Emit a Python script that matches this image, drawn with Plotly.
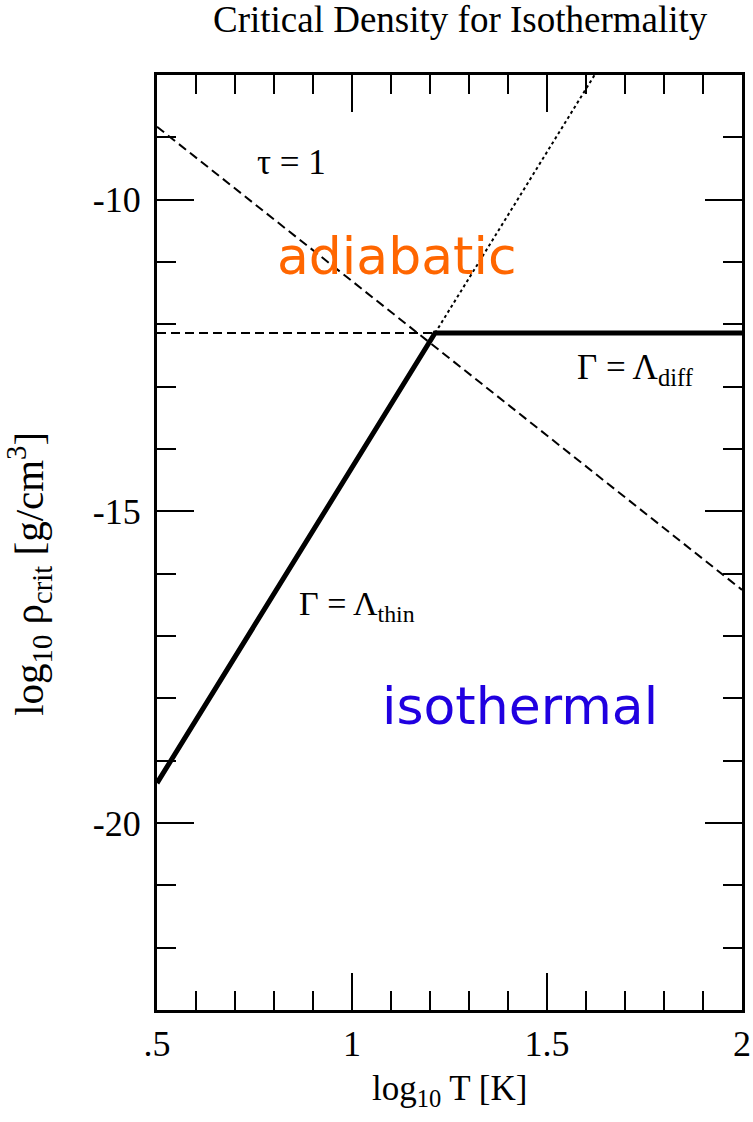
import plotly.graph_objects as go

# log10 T [K] and log10 rho_crit [g/cm^3] for the bounding curves
thin_T = [0.5, 1.213]
thin_rho = [-19.36, -12.14]

diff_T = [1.213, 2.0]
diff_rho = [-12.14, -12.14]

diff_ext_T = [0.5, 1.213]
diff_ext_rho = [-12.14, -12.14]

thin_ext_T = [1.213, 1.622]
thin_ext_rho = [-12.14, -8.0]

tau_T = [0.5, 2.0]
tau_rho = [-8.83, -16.26]

x_tickvals = [0.5, 1.0, 1.5, 2.0]
x_ticktext = [".5", "1", "1.5", "2"]
y_tickvals = [-10, -15, -20]
y_ticktext = ["-10", "-15", "-20"]

SERIF = "Liberation Serif, Times New Roman, serif"
SANS = "DejaVu Sans, Verdana, sans-serif"

fig = go.Figure()

# tau = 1 line
fig.add_trace(go.Scatter(x=tau_T, y=tau_rho, mode="lines",
                         line=dict(color="black", width=2, dash="9px,5px")))
# horizontal extension of the diffusion limit
fig.add_trace(go.Scatter(x=diff_ext_T, y=diff_ext_rho, mode="lines",
                         line=dict(color="black", width=2, dash="9px,5px")))
# extension of the optically thin limit
fig.add_trace(go.Scatter(x=thin_ext_T, y=thin_ext_rho, mode="lines",
                         line=dict(color="black", width=2, dash="3px,3px")))
# critical density boundary
fig.add_trace(go.Scatter(x=thin_T + diff_T[1:], y=thin_rho + diff_rho[1:], mode="lines",
                         line=dict(color="black", width=5)))

axis_common = dict(
    showline=True, linewidth=3, linecolor="black", mirror="allticks",
    ticks="inside", ticklen=37, tickwidth=2, tickcolor="black",
    showgrid=False, zeroline=False, automargin=False,
    tickfont=dict(family=SERIF, size=36, color="black"),
)

fig.update_xaxes(range=[0.5, 2.0], tickmode="array", tickvals=x_tickvals, ticktext=x_ticktext,
                 minor=dict(ticks="inside", ticklen=19, tickwidth=2, tickcolor="black",
                            dtick=0.1, tick0=0.5),
                 **axis_common)
fig.update_yaxes(range=[-23, -8], tickmode="array", tickvals=y_tickvals, ticktext=y_ticktext,
                 ticklabelstandoff=6,
                 minor=dict(ticks="inside", ticklen=19, tickwidth=2, tickcolor="black",
                            dtick=1, tick0=0),
                 **axis_common)

annotations = [
    dict(x=0.751, y=-9.41, xref="x", yref="y", text="τ = 1", xanchor="left", yanchor="middle",
         showarrow=False, font=dict(family=SERIF, size=35, color="black")),
    dict(x=1.114, y=-10.90, xref="x", yref="y", text="adiabatic", xanchor="center", yanchor="middle",
         showarrow=False, font=dict(family=SANS, size=52, color="#ff6600")),
    dict(x=1.431, y=-18.12, xref="x", yref="y", text="isothermal", xanchor="center", yanchor="middle",
         showarrow=False, font=dict(family=SANS, size=52, color="#2000e0")),
    dict(x=1.572, y=-12.72, xref="x", yref="y", text="Γ = Λ<sub>diff</sub>", xanchor="left",
         yanchor="middle", showarrow=False, font=dict(family=SERIF, size=35, color="black")),
    dict(x=0.859, y=-16.52, xref="x", yref="y", text="Γ = Λ<sub>thin</sub>", xanchor="left",
         yanchor="middle", showarrow=False, font=dict(family=SERIF, size=34, color="black")),
    dict(x=0.518, y=1.059, xref="paper", yref="paper", text="Critical Density for Isothermality",
         xanchor="center", yanchor="middle", showarrow=False,
         font=dict(family=SERIF, size=37, color="black")),
    dict(x=0.5, y=-0.0856, xref="paper", yref="paper", text="log<sub>10</sub> T [K]",
         xanchor="center", yanchor="middle", showarrow=False,
         font=dict(family=SERIF, size=35, color="black")),
    dict(x=-0.218, y=0.467, xref="paper", yref="paper",
         text="log<sub>10</sub> ρ<sub>crit</sub> [g/cm<sup>3</sup>]", textangle=-90,
         xanchor="center", yanchor="middle", showarrow=False,
         font=dict(family=SERIF, size=41, color="black")),
]

fig.update_layout(
    width=753, height=1122,
    margin=dict(l=157, r=11, t=75, b=112),
    paper_bgcolor="white", plot_bgcolor="white",
    showlegend=False,
    annotations=annotations,
)

fig.write_html("out.html")
